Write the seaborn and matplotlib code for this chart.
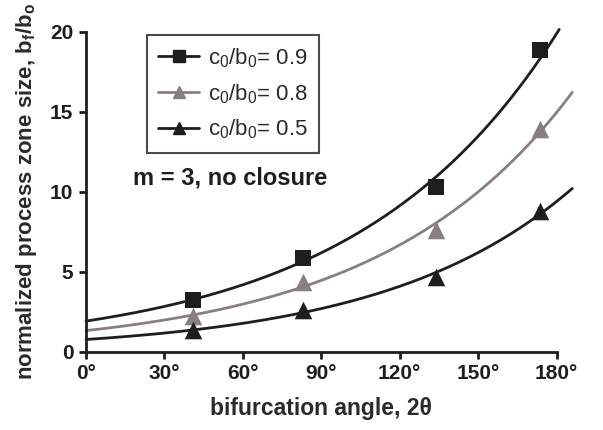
import numpy as np
import pandas as pd
import seaborn as sns
from matplotlib import pyplot as plt
from matplotlib.lines import Line2D

# bifurcation angle (deg) of the measured points
angle = [41, 83, 134, 173.5]
# normalized process zone size for each c0/b0 ratio
size_09 = [3.25, 5.9, 10.3, 18.85]
size_08 = [2.25, 4.35, 7.65, 13.95]
size_05 = [1.35, 2.6, 4.7, 8.8]

series_names = ['0.9', '0.8', '0.5']
series_values = [size_09, size_08, size_05]
colors = ['#1e1e1e', '#8a7f7f', '#1e1e1e']
markers = ['s', '^', '^']
curve_end = [181, 186, 186]

x_ticks = [0, 30, 60, 90, 120, 150, 180]
y_ticks = [0, 5, 10, 15, 20]

pts = pd.DataFrame({
    'angle': angle * 3,
    'size': size_09 + size_08 + size_05,
    'ratio': sum([[n] * len(angle) for n in series_names], []),
})

# exponential trend lines fitted to each series
curves = []
for name, vals, xend in zip(series_names, series_values, curve_end):
    b, ln_a = np.polyfit(angle, np.log(vals), 1)
    xx = np.linspace(0, xend, 200)
    curves.append(pd.DataFrame({'angle': xx, 'size': np.exp(ln_a + b * xx),
                                'ratio': name}))
curves = pd.concat(curves, ignore_index=True)

sns.set_style('ticks')
plt.rcParams['font.family'] = ['Liberation Sans', 'DejaVu Sans']
plt.rcParams['mathtext.default'] = 'regular'

fig = plt.figure(figsize=(6.03, 4.30), dpi=100)
ax = fig.add_axes([0.1426, 0.1814, 0.7805, 0.7445])

palette = dict(zip(series_names, colors))
sns.lineplot(data=curves, x='angle', y='size', hue='ratio', palette=palette,
             linewidth=2.0, legend=False, ax=ax, clip_on=False,
             estimator=None, sort=False)
for name, mk in zip(series_names, markers):
    sub = pts[pts['ratio'] == name]
    sns.scatterplot(data=sub, x='angle', y='size', color=palette[name],
                    marker=mk, s=130 if mk == 's' else 160, linewidth=0,
                    legend=False, ax=ax, zorder=3, clip_on=False)

ax.set_xlim(0, 180)
ax.set_ylim(0, 20)
ax.set_xticks(x_ticks)
ax.set_xticklabels([f'{t}°' for t in x_ticks])
ax.set_yticks(y_ticks)
ax.set_yticklabels([str(t) for t in y_ticks])
ax.tick_params(axis='both', length=5, width=2, color='#1e1e1e',
               labelsize=15, labelcolor='#1e1e1e', pad=4)
for lbl in ax.get_xticklabels() + ax.get_yticklabels():
    lbl.set_fontweight('bold')
sns.despine(ax=ax)
for sp in ['left', 'bottom']:
    ax.spines[sp].set_linewidth(2)
    ax.spines[sp].set_color('#1e1e1e')

ax.set_xlabel('bifurcation angle, 2θ', fontsize=16.5, fontweight='bold',
              color='#2a2a2a', labelpad=10)
ax.set_ylabel('normalized process zone size, b$_f$/b$_o$', fontsize=16,
              fontweight='bold', color='#2a2a2a', labelpad=8)

handles = [Line2D([], [], color=c, marker=m, markersize=9, linewidth=2)
           for c, m in zip(colors, markers)]
labels = [f'c$_0$/b$_0$= {n}' for n in series_names]
leg = ax.legend(handles, labels, loc='upper left', bbox_to_anchor=(0.13, 0.99),
                borderaxespad=0, fontsize=16, frameon=True, fancybox=False,
                handlelength=1.85, labelspacing=0.55, borderpad=0.5,
                handletextpad=0.4)
leg.get_frame().set_edgecolor('#1e1e1e')
leg.get_frame().set_linewidth(1.5)
for t in leg.get_texts():
    t.set_color('#2a2a2a')

ax.text(0.1, 0.545, 'm = 3, no closure', transform=ax.transAxes,
        fontsize=17, fontweight='bold', color='#1e1e1e', va='center')

fig.savefig('out.png', dpi=100)
